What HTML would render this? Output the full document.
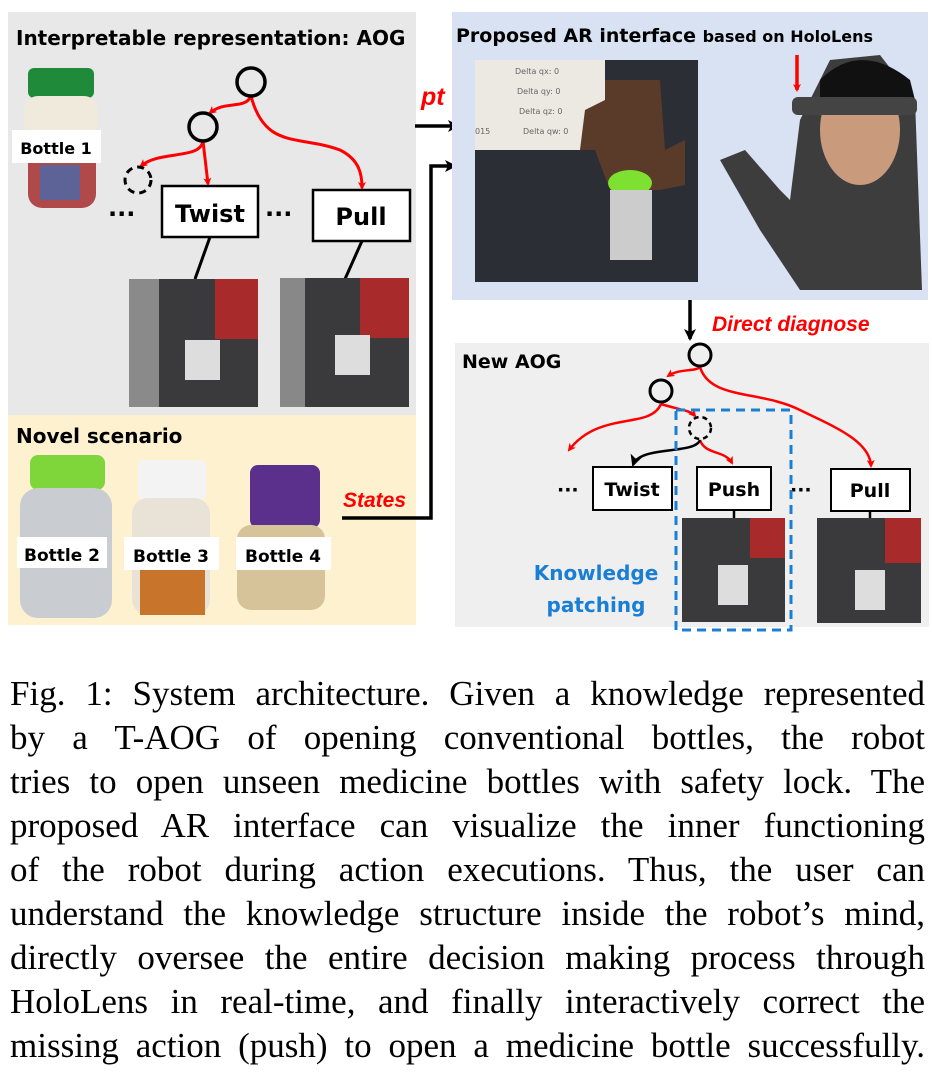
<!DOCTYPE html>
<html><head><meta charset="utf-8">
<style>
html,body{margin:0;padding:0;background:#fff;width:932px;height:1074px;overflow:hidden;position:relative}
svg{position:absolute;left:0;top:0}
.cap{position:absolute;left:10px;width:915px;font-family:"Liberation Serif",serif;font-size:35px;line-height:44px;color:#000}
.cap div{text-align:justify;text-align-last:justify;white-space:nowrap;height:44px}
</style></head><body>
<svg width="932" height="640" viewBox="0 0 932 640" font-family="'DejaVu Sans',sans-serif">
<defs>
<marker id="ar" markerWidth="8" markerHeight="8" refX="6" refY="4" orient="auto" markerUnits="userSpaceOnUse"><path d="M0,0 L8,4 L0,8 L2,4z" fill="#f00"/></marker>
<marker id="ak" markerWidth="12" markerHeight="12" refX="10" refY="6" orient="auto" markerUnits="userSpaceOnUse"><path d="M0,0 L12,6 L0,12 L3,6z" fill="#000"/></marker>
</defs>
<rect x="8" y="12" width="408" height="403" fill="#e8e8e8"/>
<rect x="8" y="415" width="408" height="210" fill="#fdf1cf"/>
<text x="16" y="45" font-size="20" font-weight="bold">Interpretable representation: AOG</text>
<rect x="28" y="68" width="66" height="30" rx="6" fill="#1f8a3a"/>
<rect x="24" y="96" width="74" height="40" rx="14" fill="#efeadc"/>
<rect x="28" y="136" width="68" height="72" rx="14" fill="#b04a4a"/>
<rect x="40" y="165" width="40" height="35" fill="#3b6db8" opacity=".7"/>
<rect x="12" y="130" width="89" height="33" fill="#fff"/>
<text x="56" y="154" font-size="16" font-weight="bold" text-anchor="middle">Bottle 1</text>
<path d="M251,96 C245,110 225,100 210,113" stroke="#f00" stroke-width="3" fill="none" marker-end="url(#ar)"/>
<path d="M251,96 C265,150 300,135 340,150 C360,160 362,175 362,188" stroke="#f00" stroke-width="3" fill="none" marker-end="url(#ar)"/>
<path d="M203,141 C200,160 160,150 141,166" stroke="#f00" stroke-width="3" fill="none" marker-end="url(#ar)"/>
<path d="M203,141 L208,184" stroke="#f00" stroke-width="3" fill="none" marker-end="url(#ar)"/>
<circle cx="251" cy="82" r="14" fill="none" stroke="#000" stroke-width="3.5"/>
<circle cx="203" cy="127" r="14" fill="none" stroke="#000" stroke-width="3.5"/>
<circle cx="138" cy="180" r="13" fill="none" stroke="#000" stroke-width="3" stroke-dasharray="7,5"/>
<rect x="162" y="186" width="96" height="51" fill="#fff" stroke="#000" stroke-width="2.5"/>
<text x="210" y="222" font-size="24" font-weight="bold" text-anchor="middle">Twist</text>
<rect x="313" y="190" width="97" height="51" fill="#fff" stroke="#000" stroke-width="2.5"/>
<text x="361" y="225" font-size="24" font-weight="bold" text-anchor="middle">Pull</text>
<text x="108" y="222" font-size="24" font-weight="bold">···</text>
<text x="265" y="222" font-size="24" font-weight="bold">···</text>
<line x1="210" y1="237" x2="195" y2="279" stroke="#000" stroke-width="3"/>
<line x1="362" y1="241" x2="345" y2="279" stroke="#000" stroke-width="3"/>
<rect x="129" y="279" width="129" height="128" fill="#3a3a3c"/>
<rect x="129" y="279" width="30" height="128" fill="#8a8a8a"/>
<rect x="215" y="279" width="43" height="60" fill="#a82a2a"/>
<rect x="185" y="340" width="35" height="40" fill="#ddd"/>
<rect x="280" y="278" width="129" height="129" fill="#3a3a3c"/>
<rect x="280" y="278" width="25" height="129" fill="#888"/>
<rect x="360" y="278" width="49" height="60" fill="#a82a2a"/>
<rect x="335" y="335" width="35" height="40" fill="#ddd"/>
<text x="16" y="443" font-size="20" font-weight="bold">Novel scenario</text>
<rect x="30" y="455" width="75" height="35" rx="8" fill="#7ed63a"/>
<rect x="20" y="488" width="92" height="130" rx="18" fill="#c9ccd0"/>
<rect x="138" y="460" width="68" height="40" rx="5" fill="#f3f3f3"/>
<rect x="132" y="498" width="78" height="117" rx="16" fill="#e9e2d6"/>
<rect x="140" y="570" width="65" height="45" fill="#c8742a"/>
<rect x="250" y="465" width="70" height="63" rx="8" fill="#5b2f8c"/>
<rect x="237" y="525" width="88" height="85" rx="14" fill="#d6c39a"/>
<rect x="17" y="537" width="90" height="31" fill="#fff"/>
<rect x="124" y="537" width="95" height="33" fill="#fff"/>
<rect x="236" y="537" width="95" height="33" fill="#fff"/>
<text x="62" y="561" font-size="17" font-weight="bold" text-anchor="middle">Bottle 2</text>
<text x="171" y="562" font-size="17" font-weight="bold" text-anchor="middle">Bottle 3</text>
<text x="283" y="562" font-size="17" font-weight="bold" text-anchor="middle">Bottle 4</text>
<text x="343" y="507" font-size="21" font-weight="bold" font-style="italic" fill="#f00" font-family="'Liberation Sans',sans-serif">States</text>
<path d="M342,518 L431,518 L431,166 L455,166" stroke="#000" stroke-width="3.5" fill="none" marker-end="url(#ak)"/>
<line x1="415" y1="126" x2="458" y2="126" stroke="#000" stroke-width="3.5" marker-end="url(#ak)"/>
<text x="421" y="105" font-size="25" font-weight="bold" font-style="italic" fill="#f00" font-family="'Liberation Sans',sans-serif">pt</text>
<rect x="452" y="12" width="476" height="288" fill="#d8e2f2"/>
<text x="456" y="42" font-size="19" font-weight="bold">Proposed AR interface <tspan font-size="16">based on  HoloLens</tspan></text>
<rect x="475" y="60" width="223" height="222" fill="#2b2e35"/>
<rect x="475" y="60" width="130" height="90" fill="#ece9e2"/>
<text x="515" y="74" font-size="8" fill="#666">Delta qx: 0</text>
<text x="517" y="94" font-size="8" fill="#666">Delta qy: 0</text>
<text x="519" y="114" font-size="8" fill="#666">Delta qz: 0</text>
<text x="475" y="134" font-size="8" fill="#666">015</text>
<text x="523" y="134" font-size="8" fill="#666">Delta qw: 0</text>
<path d="M605,80 L660,80 L665,150 L685,140 L685,185 L660,190 L610,190 L595,150 L580,150 L585,110 L605,100z" fill="#5a3a28"/>
<ellipse cx="630" cy="183" rx="22" ry="13" fill="#7ee030"/>
<rect x="610" y="190" width="42" height="70" fill="#ccc"/>
<path d="M720,160 L745,150 L780,190 L790,200 L800,120 L830,60 L880,55 L915,100 L922,290 L800,290 L760,230z" fill="#3d3d3d"/>
<ellipse cx="860" cy="130" rx="40" ry="55" fill="#c99a7c"/>
<path d="M820,80 Q860,40 910,80 L915,100 L820,100z" fill="#111"/>
<rect x="792" y="97" width="125" height="18" rx="6" fill="#444"/>
<line x1="797" y1="55" x2="797" y2="90" stroke="#f00" stroke-width="3.5" marker-end="url(#ar)"/>
<line x1="690" y1="300" x2="690" y2="339" stroke="#000" stroke-width="3.5" marker-end="url(#ak)"/>
<text x="712" y="331" font-size="21" font-weight="bold" font-style="italic" fill="#f00" font-family="'Liberation Sans',sans-serif">Direct diagnose</text>
<rect x="455" y="343" width="474" height="284" fill="#efefef"/>
<text x="462" y="368" font-size="19" font-weight="bold">New AOG</text>
<path d="M700,367 C695,372 680,368 668,376" stroke="#f00" stroke-width="2.5" fill="none" marker-end="url(#ar)"/>
<path d="M700,367 C710,400 760,390 800,410 C830,425 870,440 871,466" stroke="#f00" stroke-width="2.5" fill="none" marker-end="url(#ar)"/>
<path d="M661,404 C650,430 600,410 569,450" stroke="#f00" stroke-width="2.5" fill="none" marker-end="url(#ar)"/>
<path d="M661,404 C680,410 690,410 695,416" stroke="#f00" stroke-width="2.5" fill="none" marker-end="url(#ar)"/>
<path d="M700,440 C705,455 725,450 732,463" stroke="#f00" stroke-width="2.5" fill="none" marker-end="url(#ar)"/>
<path d="M700,440 C695,455 640,445 633,465" stroke="#000" stroke-width="2.5" fill="none" marker-end="url(#ak)"/>
<circle cx="700" cy="355" r="11" fill="none" stroke="#000" stroke-width="3"/>
<circle cx="661" cy="391" r="11" fill="none" stroke="#000" stroke-width="3"/>
<circle cx="700" cy="428" r="11" fill="none" stroke="#000" stroke-width="2.5" stroke-dasharray="5,4"/>
<rect x="593" y="467" width="79" height="43" fill="#fff" stroke="#000" stroke-width="2"/>
<text x="632" y="496" font-size="19" font-weight="bold" text-anchor="middle">Twist</text>
<rect x="697" y="467" width="74" height="43" fill="#fff" stroke="#000" stroke-width="2"/>
<text x="734" y="496" font-size="19" font-weight="bold" text-anchor="middle">Push</text>
<rect x="831" y="469" width="79" height="42" fill="#fff" stroke="#000" stroke-width="2"/>
<text x="870" y="497" font-size="19" font-weight="bold" text-anchor="middle">Pull</text>
<text x="557" y="496" font-size="19" font-weight="bold">···</text>
<text x="790" y="496" font-size="19" font-weight="bold">···</text>
<line x1="734" y1="510" x2="734" y2="518" stroke="#000" stroke-width="2.5"/>
<line x1="870" y1="511" x2="870" y2="518" stroke="#000" stroke-width="2.5"/>
<rect x="682" y="518" width="103" height="104" fill="#3a3a3c"/>
<rect x="750" y="518" width="35" height="40" fill="#a82a2a"/>
<rect x="718" y="565" width="30" height="40" fill="#ddd"/>
<rect x="817" y="518" width="104" height="105" fill="#3a3a3c"/>
<rect x="885" y="518" width="36" height="45" fill="#a82a2a"/>
<rect x="855" y="570" width="30" height="40" fill="#ddd"/>
<rect x="676" y="410" width="115" height="220" fill="none" stroke="#1a7fd4" stroke-width="3" stroke-dasharray="9,6"/>
<text x="596" y="580" font-size="20" font-weight="bold" fill="#1a7fd4" text-anchor="middle">Knowledge</text>
<text x="596" y="612" font-size="20" font-weight="bold" fill="#1a7fd4" text-anchor="middle">patching</text>
</svg>
<div class="cap" style="top:672px">
<div>Fig. 1: System architecture. Given a knowledge represented</div>
<div>by a T-AOG of opening conventional bottles, the robot</div>
<div>tries to open unseen medicine bottles with safety lock. The</div>
<div>proposed AR interface can visualize the inner functioning</div>
<div>of the robot during action executions. Thus, the user can</div>
<div>understand the knowledge structure inside the robot’s mind,</div>
<div>directly oversee the entire decision making process through</div>
<div>HoloLens in real-time, and finally interactively correct the</div>
<div>missing action (push) to open a medicine bottle successfully.</div>
</div>
</body></html>
